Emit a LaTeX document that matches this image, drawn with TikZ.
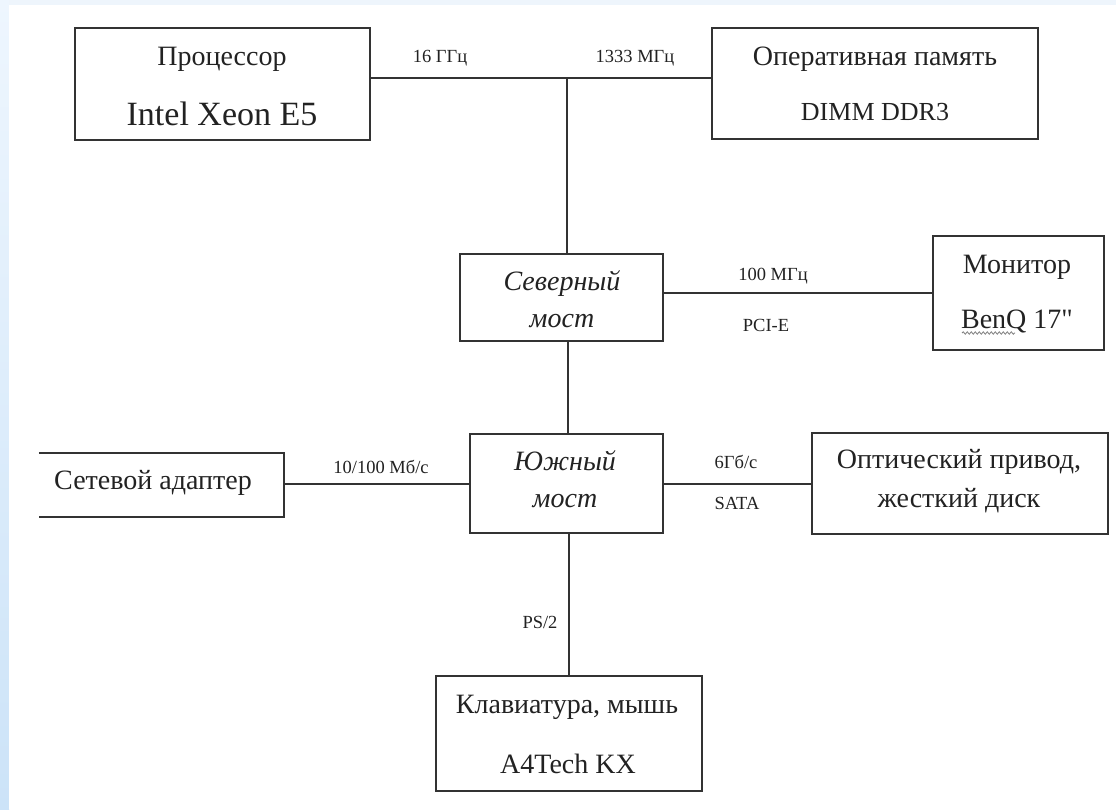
\documentclass[tikz,border=0pt]{standalone}
\usepackage{fontspec}
\setmainfont{Liberation Serif}
\newfontfamily\plainquote{Liberation Serif}[Ligatures=TeXOff]
\usetikzlibrary{decorations.pathmorphing}
\definecolor{ink}{HTML}{222222}
\definecolor{edge}{HTML}{333333}
\definecolor{skytop}{HTML}{EEF6FE}
\definecolor{skybot}{HTML}{CCE3F8}
\definecolor{skystrip}{HTML}{EEF5FC}
\newcommand{\fsz}[1]{\fontsize{#1}{#1}\selectfont}

\begin{document}
\begin{tikzpicture}[x=1pt,y=-1pt,
  frame/.style={draw=edge, line width=2.4pt},
  slot/.style={inner sep=0pt},
  txt/.style={text=ink, inner sep=0pt, anchor=base, font=\fsz{28}},
  lbl/.style={text=ink, inner sep=0pt, anchor=base, font=\fsz{18.5}},
  wire/.style={draw=edge, line width=2pt}]

% page background
\useasboundingbox (0,0) rectangle (1116,809);
\shade[top color=skytop, bottom color=skybot] (0,0) rectangle (9,809);
\fill[skystrip] (9,0) rectangle (1116,5);
\fill[white] (9,5) rectangle (1116,809);

% junction points of the buses
\coordinate (bus) at (567,78);
\coordinate (nbs) at (568,341);

% unit outlines (sizes only; frames are drawn after the wires)
\node[slot, minimum width=326pt, minimum height=111pt] (ram) at (875,83.5) {};
\node[slot, minimum width=295pt, minimum height=112pt] (cpu) at (222.5,84) {};
\node[slot, minimum width=203pt, minimum height=87pt] (nb) at (561.5,297.5) {};
\node[slot, minimum width=171pt, minimum height=114pt] (mon) at (1018.5,293) {};
\node[slot, minimum width=193pt, minimum height=99pt] (sb) at (566.5,483.5) {};
\node[slot, minimum width=245pt, minimum height=64pt] (net) at (161.5,485) {};
\node[slot, minimum width=296pt, minimum height=101pt] (opt) at (960,483.5) {};
\node[slot, minimum width=266pt, minimum height=115pt] (kb) at (569,733.5) {};

% wires
\draw[wire] (cpu.east |- bus) -- (ram.west |- bus);
\draw[wire] (bus) -- (bus |- nb.north);
\draw[wire] (nb.east |- mon.west) -- (mon.west);
\draw[wire] (nbs) -- (nbs |- sb.north);
\draw[wire] (net.east |- sb.west) -- (sb.west);
\draw[wire] (sb.east) -- (opt.west |- sb.east);
\draw[wire] (kb.north |- sb.south) -- (kb.north);

% frames
\draw[frame, fill=white] (cpu.north west) rectangle (cpu.south east);
\draw[frame, fill=white] (ram.north west) rectangle (ram.south east);
\draw[frame, fill=white] (nb.north west) rectangle (nb.south east);
\draw[frame, fill=white] (mon.north west) rectangle (mon.south east);
\draw[frame, fill=white] (sb.north west) rectangle (sb.south east);
\draw[frame, fill=white] (opt.north west) rectangle (opt.south east);
\draw[frame, fill=white] (kb.north west) rectangle (kb.south east);
\fill[white] (net.north west) rectangle (net.south east);
\draw[frame] (net.north west) -- (net.north east) -- (net.south east) -- (net.south west);

% unit texts
\node[txt] (cpu1) at (222,65) {Процессор};
\node[txt, font=\fsz{34}] (cpu2) at (222,125) {Intel Xeon E5};
\node[txt] (ram1) at (875,65) {Оперативная память};
\node[txt, font=\fsz{26}] (ram2) at (875,120) {DIMM DDR3};
\node[txt, font=\fsz{28}\itshape] (nb1) at (562,290) {Северный};
\node[txt, font=\fsz{28}\itshape] (nb2) at (562,327) {мост};
\node[txt] (mon1) at (1017,273) {Монитор};
\node[txt] (mon2) at (1017,328) {BenQ 17{\plainquote"}};
\node[txt, font=\fsz{28}\itshape] (sb1) at (565,470) {Южный};
\node[txt, font=\fsz{28}\itshape] (sb2) at (565,507) {мост};
\node[txt] (net1) at (153,489) {Сетевой адаптер};
\node[txt] (opt1) at (959,468) {Оптический привод,};
\node[txt] (opt2) at (959,507) {жесткий диск};
\node[txt] (kb1) at (567,713) {Клавиатура, мышь};
\node[txt] (kb2) at (568,773) {A4Tech KX};

% spell-check squiggle under the brand name
\draw[gray, line width=0.8pt, decorate, decoration={snake, amplitude=1.2pt, segment length=4pt}]
  (962,333) -- (1015,333);

% bus labels
\node[lbl] (l1) at (440,62) {16 ГГц};
\node[lbl] (l2) at (635,62) {1333 МГц};
\node[lbl] (l3) at (773,280) {100 МГц};
\node[lbl] (l4) at (766,331) {PCI-E};
\node[lbl] (l5) at (381,473) {10/100 Мб/с};
\node[lbl] (l6) at (736,468) {6Гб/с};
\node[lbl] (l7) at (737,509) {SATA};
\node[lbl] (l8) at (540,628) {PS/2};
\end{tikzpicture}
\end{document}
